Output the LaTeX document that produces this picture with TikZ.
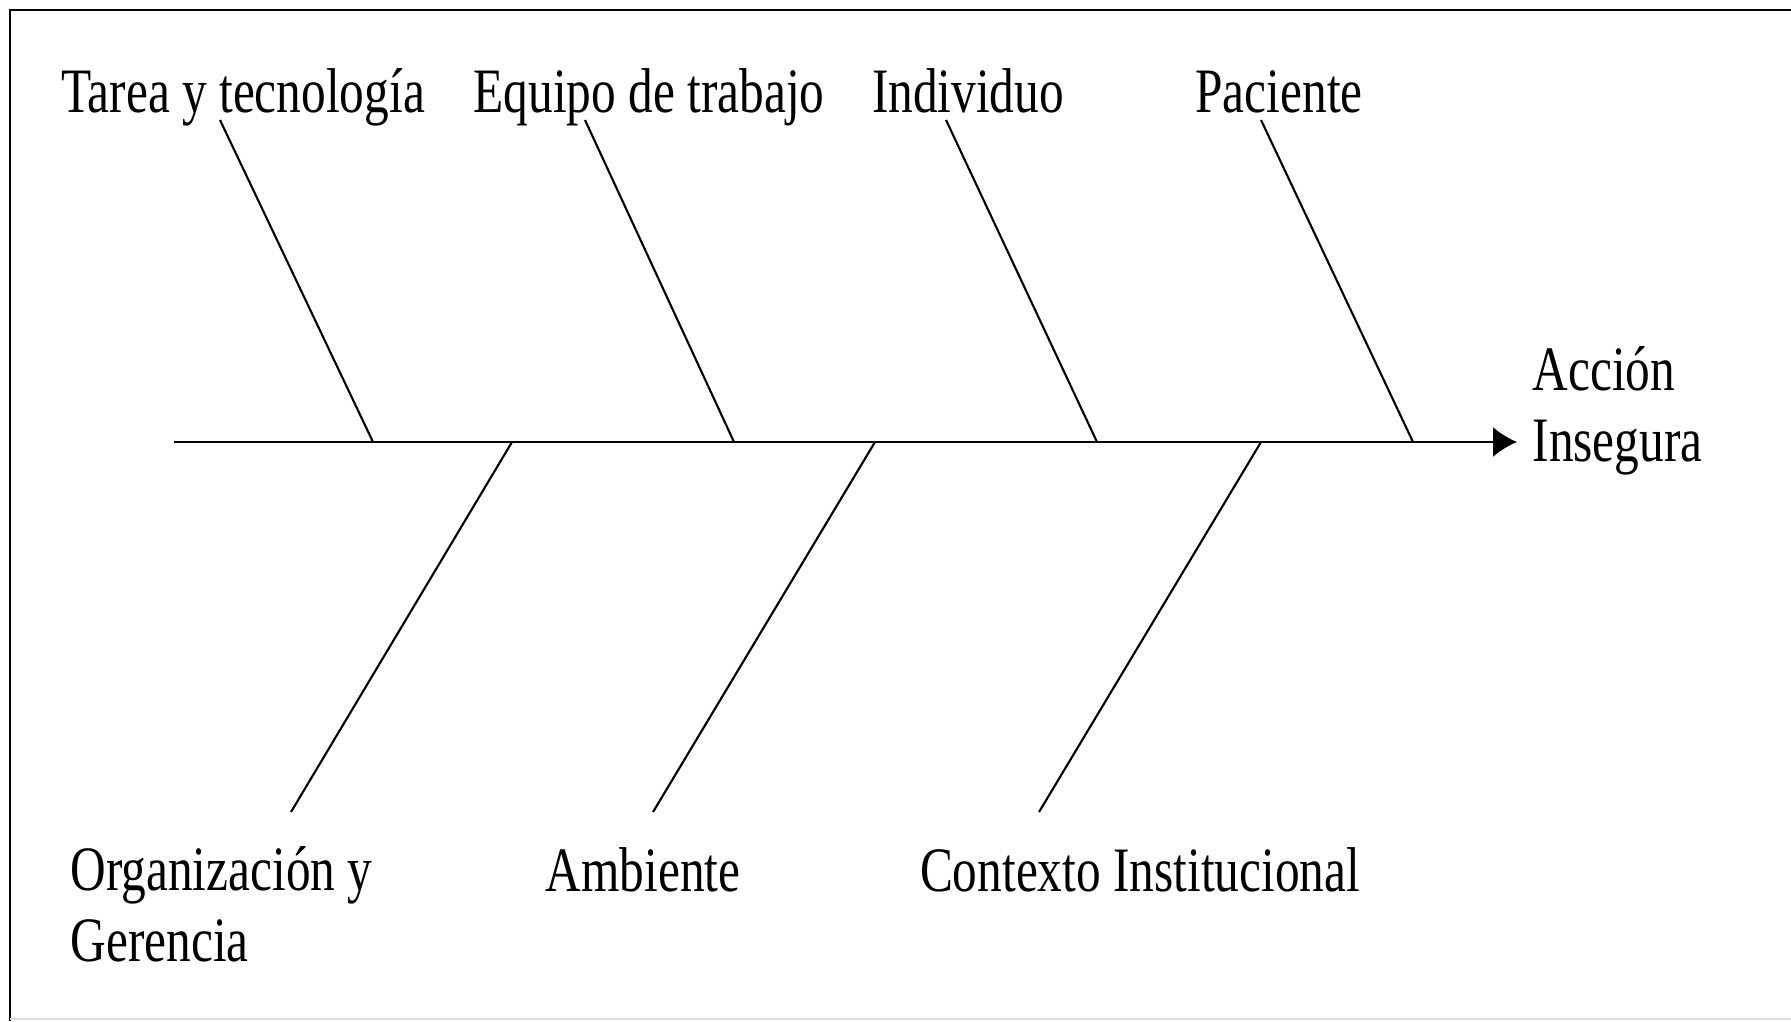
\documentclass[tikz,border=0pt]{standalone}
\usepackage{fontspec}
\setmainfont{Liberation Serif}
\usetikzlibrary{arrows.meta}
\usetikzlibrary{positioning}

\tikzset{
  cause/.style={inner sep=0pt, font=\fontsize{18}{20}\selectfont, xscale=0.78},
  bone/.style={line width=0.6pt},
}

\begin{document}
\begin{tikzpicture}
			\useasboundingbox (0, 0) rectangle (17.91, 10.21);
			% frame
			\draw [line width=0.8pt] (0.10, 0) -- (0.10, 10.11) -- (17.91, 10.11);
			\draw [gray!25, line width=0.6pt] (0.10, 0.02) -- (17.91, 0.02);
			% spine
			\coordinate (tail) at (1.74, 5.79);
			\coordinate (tip) at (15.17, 5.79);
			\draw [bone, -{Latex[length=2.4mm, width=3mm]}] (tail) -- (tip);
			% upper bones
			\coordinate (t1) at (2.20, 9.01);   \coordinate (s1) at (3.73, 5.79);
			\coordinate (t2) at (5.85, 9.01);   \coordinate (s2) at (7.34, 5.79);
			\coordinate (t3) at (9.46, 9.01);   \coordinate (s3) at (10.97, 5.79);
			\coordinate (t4) at (12.61, 9.01);  \coordinate (s4) at (14.13, 5.79);
			\foreach \i in {1,...,4}
				\draw [bone] (t\i) -- (s\i);
			% lower bones
			\coordinate (s5) at (5.12, 5.79);   \coordinate (b5) at (2.91, 2.09);
			\coordinate (s6) at (8.75, 5.79);   \coordinate (b6) at (6.53, 2.09);
			\coordinate (s7) at (12.61, 5.79);  \coordinate (b7) at (10.39, 2.09);
			\foreach \i in {5,6,7}
				\draw [bone] (s\i) -- (b\i);
			% causes
			\node at (2.43, 9.08) [cause, anchor=base] (tarea) {Tarea y tecnología};
			\node at (6.49, 9.08) [cause, anchor=base] (equipo) {Equipo de trabajo};
			\node at (9.68, 9.08) [cause, anchor=base] (individuo) {Individuo};
			\node at (12.79, 9.08) [cause, anchor=base] (paciente) {Paciente};
			\node at (0.70, 0.60) [cause, anchor=base west, align=left] (organizacion) {Organización y\\Gerencia};
			\node at (6.43, 1.30) [cause, anchor=base] (ambiente) {Ambiente};
			\node at (11.40, 1.30) [cause, anchor=base] (contexto) {Contexto Institucional};
			% effect
			\node at (15.32, 5.60) [cause, anchor=base west, align=left] (accion) {Acción\\Insegura};
		\end{tikzpicture}
\end{document}
